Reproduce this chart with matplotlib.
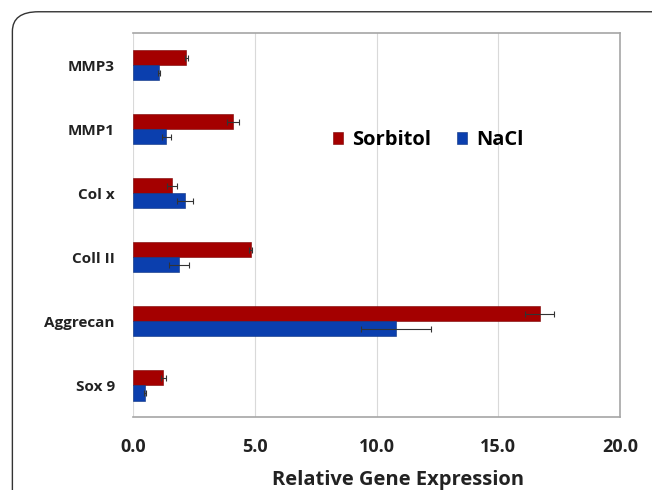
import matplotlib
matplotlib.use("Agg")
import matplotlib.pyplot as plt
import numpy as np
from matplotlib.patches import FancyBboxPatch

genes = ["Sox 9", "Aggrecan", "Coll II", "Col x", "MMP1", "MMP3"]
sorbitol = [1.25, 16.7, 4.83, 1.60, 4.11, 2.19]
sorbitol_err = [0.10, 0.60, 0.06, 0.22, 0.23, 0.07]
nacl = [0.49, 10.79, 1.89, 2.15, 1.37, 1.07]
nacl_err = [0.05, 1.43, 0.42, 0.33, 0.20, 0.05]
xticks = [0.0, 5.0, 10.0, 15.0, 20.0]

red = "#A40000"
blue = "#0B3FAE"
txt = "#222222"
plt.rcParams["font.family"] = ["Open Sans", "DejaVu Sans"]

fig = plt.figure(figsize=(6.52, 4.9), dpi=100)
ax = fig.add_axes([0.204, 0.148, 0.747, 0.784])

# outer rounded frame (runs off the right and bottom edges)
frame = FancyBboxPatch((0.019, -0.2), 1.2, 1.176, boxstyle="round,pad=0,rounding_size=0.04",
                       transform=fig.transFigure, fill=False, edgecolor="#333333", lw=1.0)
fig.patches.append(frame)

y = np.arange(len(genes))
h = 0.235
ekw = dict(ecolor="#333333", elinewidth=0.8, capsize=2.5, capthick=0.8)
ax.barh(y + h / 2, sorbitol, height=h, xerr=sorbitol_err, color=red, label="Sorbitol",
        edgecolor="#7a0000", linewidth=0.4, error_kw=ekw, zorder=3)
ax.barh(y - h / 2, nacl, height=h, xerr=nacl_err, color=blue, label="NaCl",
        edgecolor="#08307f", linewidth=0.4, error_kw=ekw, zorder=3)

ax.set_xlim(0, 20)
ax.set_ylim(-0.5, len(genes) - 0.5)
ax.set_xticks(xticks)
ax.set_xticklabels([f"{v:.1f}" for v in xticks], fontsize=13, fontweight="bold", color=txt)
ax.set_yticks(y)
ax.set_yticklabels(genes, fontsize=11, fontweight="bold", color=txt)
ax.tick_params(length=0)
ax.tick_params(axis="y", pad=13)
ax.tick_params(axis="x", pad=14.5)
ax.set_xlabel("Relative Gene Expression", fontsize=14.5, fontweight="bold", color=txt)
ax.xaxis.set_label_coords(0.544, -0.137)
ax.grid(axis="x", color="#d9d9d9", lw=0.8, zorder=0)
for s in ["top", "right", "bottom"]:
    ax.spines[s].set_color("#a6a6a6")
    ax.spines[s].set_linewidth(1.2)
ax.spines["left"].set_visible(False)

ax.legend(loc="center left", bbox_to_anchor=(0.41, 0.722), ncol=2, frameon=False,
          prop={"size": 14.5, "weight": "bold"}, handlelength=0.5, handleheight=0.5,
          columnspacing=1.3, handletextpad=0.45, borderpad=0, borderaxespad=0)

fig.savefig("out.png", dpi=100)
